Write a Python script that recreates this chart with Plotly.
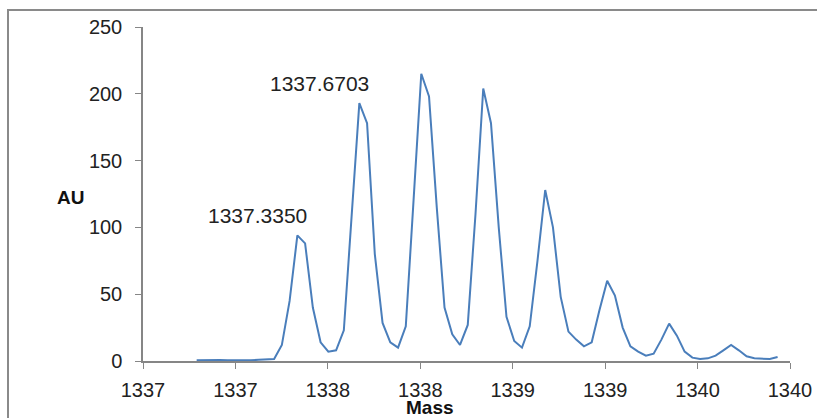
import plotly.graph_objects as go

mass = [1336.7903, 1336.8322, 1336.8741, 1336.9160, 1336.9579, 1336.9998, 1337.0417, 1337.0836,
        1337.1255, 1337.1674, 1337.2093, 1337.2512, 1337.2931, 1337.3350, 1337.3769, 1337.4188,
        1337.4607, 1337.5026, 1337.5445, 1337.5864, 1337.6283, 1337.6703, 1337.7121, 1337.7540,
        1337.7959, 1337.8378, 1337.8797, 1337.9216, 1337.9635, 1338.0054, 1338.0473, 1338.0892,
        1338.1311, 1338.1730, 1338.2149, 1338.2568, 1338.2987, 1338.3406, 1338.3825, 1338.4244,
        1338.4663, 1338.5082, 1338.5501, 1338.5920, 1338.6339, 1338.6758, 1338.7177, 1338.7596,
        1338.8015, 1338.8434, 1338.8853, 1338.9272, 1338.9691, 1339.0110, 1339.0529, 1339.0948,
        1339.1367, 1339.1786, 1339.2205, 1339.2624, 1339.3043, 1339.3462, 1339.3881, 1339.4300,
        1339.4719, 1339.5138, 1339.5557, 1339.5976, 1339.6395, 1339.6814, 1339.7233, 1339.7652,
        1339.8071, 1339.8490, 1339.8909, 1339.9328]

au = [0.5, 0.6, 1.2, 0.8, 0.5, 0.4, 0.4, 0.5, 0.9, 1.3,
      1.5, 12, 45, 94, 88, 40, 14, 7, 8, 23,
      105, 193, 178, 80, 28.5, 14, 10, 26, 120, 215,
      198, 115, 40, 20, 12, 27, 110, 204, 178, 100,
      33, 15, 10, 26, 75, 128, 100, 48, 22, 16,
      11, 14, 38, 60, 49, 25, 11, 7, 4, 5.5,
      16, 28, 19, 7, 2.5, 1.5, 2, 4, 8, 12,
      8, 3.5, 2, 1.5, 1.5, 3]

tick_vals = [1336.5, 1337.0, 1337.5, 1338.0, 1338.5, 1339.0, 1339.5, 1340.0]
tick_labels = ["1337", "1337", "1338", "1338", "1339", "1339", "1340", "1340"]
y_ticks = [0, 50, 100, 150, 200, 250]

labelled_peaks = [13, 21]

FONT = "Liberation Sans, Arial, sans-serif"
AXIS_GREY = "#868686"

L, R = 143, 790
PW = R - L

fig = go.Figure()
fig.add_trace(go.Scatter(x=mass, y=au, mode="lines",
                         line=dict(color="#4A7EBB", width=2), showlegend=False))

for i in labelled_peaks:
    fig.add_annotation(x=mass[i], y=au[i], text=f"{mass[i]:.4f}", showarrow=False,
                       xanchor="right", yanchor="bottom", xshift=12, yshift=6,
                       font=dict(family=FONT, size=21, color="#222222"))

fig.add_annotation(xref="paper", yref="paper", x=(70 - L) / PW, y=(361.5 - 198) / 334.5,
                   text="<b>AU</b>", showarrow=False, xanchor="center", yanchor="middle",
                   font=dict(family=FONT, size=19, color="#111111"))
fig.add_annotation(xref="paper", yref="paper", x=(430 - L) / PW, y=(361.5 - 408) / 334.5,
                   text="<b>Mass</b>", showarrow=False, xanchor="center", yanchor="middle",
                   font=dict(family=FONT, size=19, color="#111111"))

fig.add_shape(type="rect", xref="paper", yref="paper",
              x0=(8 - L) / PW, x1=1.2, y0=-0.3, y1=(361.5 - 10) / 334.5,
              line=dict(color="#8a8a8a", width=2), fillcolor="rgba(0,0,0,0)", layer="below")

fig.update_layout(
    width=817, height=418,
    margin=dict(l=L, r=817 - R, t=27, b=56.5, pad=0, autoexpand=False),
    paper_bgcolor="white", plot_bgcolor="white",
    font=dict(family=FONT, size=20, color="#222222"),
)
fig.update_xaxes(range=[1336.5, 1340.0], tickmode="array", tickvals=tick_vals, ticktext=tick_labels,
                 showgrid=False, zeroline=False, showline=True, linecolor=AXIS_GREY, linewidth=1.5,
                 ticks="outside", ticklen=6, tickcolor=AXIS_GREY, ticklabelstandoff=4,
                 ticklabeloverflow="allow", automargin=False,
                 tickfont=dict(family=FONT, size=20, color="#222222"))
fig.update_yaxes(range=[0, 250], tickmode="array", tickvals=y_ticks,
                 showgrid=False, zeroline=False, showline=True, linecolor=AXIS_GREY, linewidth=1.5,
                 ticks="outside", ticklen=6, tickcolor=AXIS_GREY, ticklabelstandoff=9,
                 ticklabeloverflow="allow", automargin=False,
                 tickfont=dict(family=FONT, size=20, color="#222222"))

fig.write_html("out.html", config={"displayModeBar": False},
               post_script="document.body.style.margin='0';document.body.style.overflow='hidden';")
